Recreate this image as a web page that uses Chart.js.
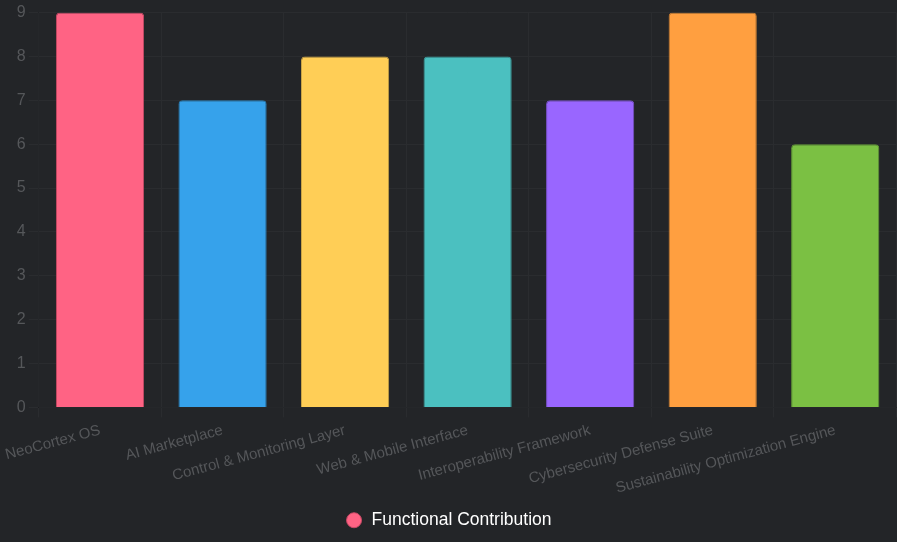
<!DOCTYPE html>
<html>
<head>
<meta charset="utf-8">
<script src="https://cdn.jsdelivr.net/npm/chart.js"></script>
<style>
  html, body { margin: 0; padding: 0; background: #232528; }
  #wrap { width: 897px; height: 542px; }
</style>
</head>
<body>
<div id="wrap"><canvas id="contributionChart" width="897" height="542"></canvas></div>
<script>
const categories = ['NeoCortex OS', 'AI Marketplace', 'Control & Monitoring Layer', 'Web & Mobile Interface', 'Interoperability Framework', 'Cybersecurity Defense Suite', 'Sustainability Optimization Engine'];
const values = [9, 7, 8, 8, 7, 9, 6];
const barColors = ['#FF6384', '#36A2EB', '#FFCE56', '#4BC0C0', '#9966FF', '#FF9F40', '#7BC043'];
const borderColors = ['#c94a66', '#2a80ba', '#c9a244', '#3a9696', '#7850c9', '#c97d32', '#619934'];

new Chart(document.getElementById('contributionChart'), {
  type: 'bar',
  data: {
    labels: categories,
    datasets: [{
      label: 'Functional Contribution',
      data: values,
      backgroundColor: barColors,
      borderColor: borderColors,
      borderWidth: 1,
      borderRadius: 4,
      categoryPercentage: 0.8,
      barPercentage: 0.9
    }]
  },
  options: {
    responsive: false,
    animation: false,
    layout: { padding: { left: 0.3, right: 0.5, top: 0, bottom: 3 } },
    scales: {
      x: {
        grid: { color: '#2a2c2f', tickLength: 10 },
        ticks: { color: '#55575a', padding: 4, font: { family: 'Liberation Sans', size: 15 }, maxRotation: 15, minRotation: 15 }
      },
      y: {
        beginAtZero: true,
        max: 9,
        grid: { color: '#2a2c2f', tickLength: 10 },
        ticks: { color: '#55575a', stepSize: 1, font: { family: 'Liberation Sans', size: 16 } }
      }
    },
    plugins: {
      legend: {
        position: 'bottom',
        labels: { color: '#ffffff', usePointStyle: true, pointStyle: 'circle', boxHeight: 10.6, font: { family: 'Liberation Sans', size: 17.5 }, padding: 10 }
      },
      tooltip: { enabled: false }
    }
  }
});
</script>
</body>
</html>
